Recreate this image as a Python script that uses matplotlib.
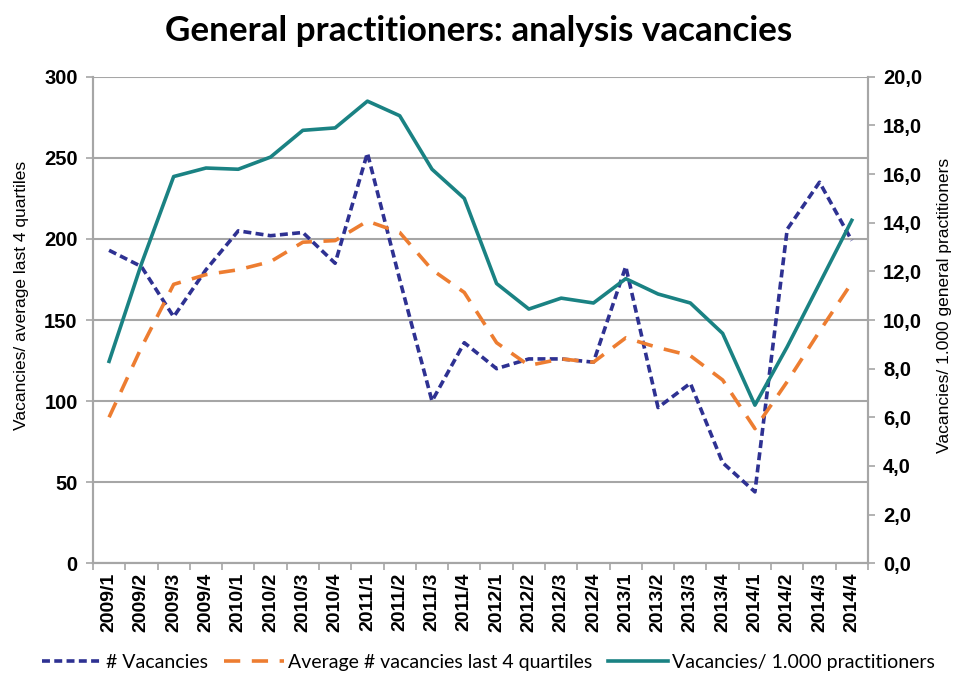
import numpy as np
import matplotlib
matplotlib.use("Agg")
import matplotlib.pyplot as plt

# quarters 2009/1 .. 2014/4
quarters = [f"{y}/{q}" for y in range(2009, 2015) for q in range(1, 5)]

vacancies = [193, 183, 152, 181, 205, 202, 204, 185,
             253, 175, 100, 136, 120, 126, 126, 124,
             183, 96, 111, 62, 44, 206, 235, 199]

avg_last4 = [90, 133, 172, 178, 181, 186, 198, 199,
             211, 204, 181, 167, 136, 122, 126, 124,
             139, 133, 128, 113, 83, 112, 143, 173]

per_1000 = [8.3, 12.3, 15.9, 16.25, 16.2, 16.7, 17.8, 17.9,
            19.0, 18.4, 16.2, 15.0, 11.5, 10.45, 10.9, 10.7,
            11.7, 11.07, 10.7, 9.45, 6.5, 8.9, 11.5, 14.1]

navy = "#2E3192"
orange = "#ED7D31"
teal = "#1A8283"
grid = "#A6A6A6"

plt.rcParams['font.family'] = ['Liberation Sans', 'DejaVu Sans']

fig = plt.figure(figsize=(9.58, 6.86), dpi=100)
ax = fig.add_axes([0.097, 0.179, 0.809, 0.709])
ax2 = ax.twinx()

x = np.arange(len(quarters))

l1, = ax.plot(x, vacancies, color=navy, lw=2.6, dashes=(2.2, 1.2), label="# Vacancies")
l2, = ax.plot(x, avg_last4, color=orange, lw=2.6, dashes=(4.5, 3.2), label="Average # vacancies last 4 quartiles")
l3, = ax2.plot(x, per_1000, color=teal, lw=2.6, label="Vacancies/ 1.000 practitioners")

ax.set_xlim(-0.5, len(quarters) - 0.5)
ax.set_ylim(0, 300)
ax.set_yticks(range(0, 301, 50))
ax2.set_ylim(0, 20)
ax2.set_yticks(np.arange(0, 20.1, 2))
ax2.set_yticklabels([f"{v:.1f}".replace(".", ",") for v in np.arange(0, 20.1, 2)])

ax.set_xticks(x)
ax.set_xticklabels(quarters, rotation=90, fontsize=14, fontweight='bold')
ax.set_xticks(np.arange(-0.5, len(quarters), 1), minor=True)
ax.tick_params(axis='x', which='major', length=0, pad=7)
ax.tick_params(axis='x', which='minor', length=5, color=grid, width=1.2)

ax.tick_params(axis='y', labelsize=14.5, length=5, color=grid, width=1.2, pad=6)
for t in ax.get_yticklabels():
    t.set_fontweight('bold')
ax2.tick_params(axis='y', labelsize=14.5, length=5, color=grid, width=1.2, pad=6)
for t in ax2.get_yticklabels():
    t.set_fontweight('bold')

ax.grid(axis='y', color=grid, lw=1.5)
ax.set_axisbelow(True)
ax2.set_zorder(ax.get_zorder() + 1)
ax.patch.set_visible(False)

for a in (ax, ax2):
    for s in a.spines.values():
        s.set_color(grid)
        s.set_linewidth(1.5)
ax.spines['top'].set_visible(False)
ax2.spines['top'].set_visible(False)

ax.set_ylabel("Vacancies/ average last 4 quartiles", fontsize=12.5)
ax.yaxis.set_label_coords(-0.083, 0.55)
ax2.set_ylabel("Vacancies/ 1.000 general practitioners", fontsize=12.5, rotation=90)
ax2.yaxis.set_label_coords(1.089, 0.53)

fig.suptitle("General practitioners: analysis vacancies", x=0.5, y=0.978,
             fontsize=25.2, fontweight='bold', family=['Lato', 'DejaVu Sans'])

fig.legend(handles=[l1, l2, l3], loc='center', bbox_to_anchor=(0.51, 0.034), ncol=3,
           frameon=False, prop={'family': ['Lato', 'DejaVu Sans'], 'size': 14},
           handlelength=3.1, columnspacing=0.8, handletextpad=0.2)

fig.savefig("out.png", dpi=100)
